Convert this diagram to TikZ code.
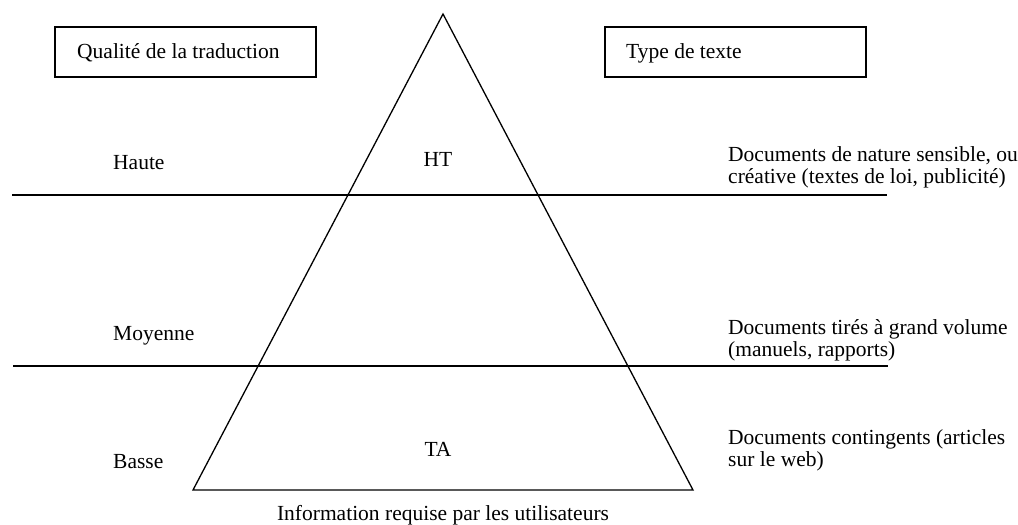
\documentclass[tikz,border=0pt]{standalone}
\usepackage{fontspec}
\setmainfont{Liberation Serif}
\begin{document}
\begin{tikzpicture}[x=1pt,y=-1pt,
  every node/.style={inner sep=0pt, font=\fontsize{21.5}{22}\selectfont},
  rule/.style={line width=1.3pt},
  label box/.style={draw, line width=1.3pt},
  lefttext/.style={anchor=base west},
  righttext/.style={anchor=west, align=left}]
  % canvas
  \useasboundingbox (0,0) rectangle (1018,525);
  \fill[white] (0,0) rectangle (1018,525);

  % header boxes
  \draw[label box] (55,27) rectangle (316,77);
  \draw[label box] (605,27) rectangle (866,77);
  \node[lefttext] (qual) at (77,58) {Qualité de la traduction};
  \node[lefttext] (type) at (626,58) {Type de texte};

  % pyramid
  \coordinate (apex) at (443,14);
  \coordinate (bl) at (193,490);
  \coordinate (br) at (693,490);
  \draw[rule, line join=miter] (apex) -- (bl) -- (br) -- cycle;

  % level separators
  \draw[rule] (12,195) -- (887,195);
  \draw[rule] (13,366) -- (888,366);

  % quality levels
  \node[lefttext] (haute) at (113,169) {Haute};
  \node[lefttext] (moy) at (113,340) {Moyenne};
  \node[lefttext] (basse) at (113,468) {Basse};
  \node[anchor=base] (ht) at (438,166) {HT};
  \node[anchor=base] (ta) at (438,456) {TA};

  % text types
  \node[righttext] (t1) at (728,167) {Documents de nature sensible, ou\\créative (textes de loi, publicité)};
  \node[righttext] (t2) at (728,340) {Documents tirés à grand volume\\(manuels, rapports)};
  \node[righttext] (t3) at (728,450) {Documents contingents (articles\\sur le web)};

  % axis caption
  \node[anchor=base] (info) at (443,520) {Information requise par les utilisateurs};
\end{tikzpicture}
\end{document}
